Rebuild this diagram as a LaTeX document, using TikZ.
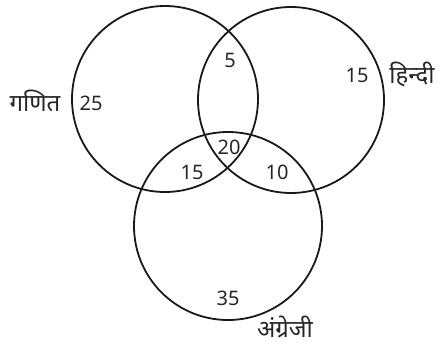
\documentclass[tikz,border=0pt]{standalone}
\usepackage{fontspec}
\setmainfont{Noto Sans}
\newfontfamily\deva[Script=Devanagari]{Noto Sans}
\begin{document}
\begin{tikzpicture}[x=1pt,y=-1pt,
  setc/.style={draw=black!90,line width=1.8pt},
  num/.style={font=\fontsize{20}{24}\selectfont,text=black!85,inner sep=0pt},
  lab/.style={font=\deva\fontsize{24}{28}\selectfont,text=black!85,inner sep=0pt}]
\useasboundingbox (0,0) rectangle (443,350);
\node[setc,circle,minimum size=186pt,inner sep=0pt] (M) at (165,99) {};
\node[setc,circle,minimum size=186pt,inner sep=0pt] (H) at (291,100) {};
\node[setc,circle,minimum size=188pt,inner sep=0pt] (E) at (228,226) {};
\node[lab] (lm) at (35,101) {गणित};
\node[num] (n25) at (91,103) {25};
\node[num] (n5) at (230,60) {5};
\node[num] (n15a) at (357,75) {15};
\node[lab] (lh) at (412,74) {हिन्दी};
\node[num] (n20) at (229,147) {20};
\node[num] (n15b) at (192,172) {15};
\node[num] (n10) at (277,172) {10};
\node[num] (n35) at (228,298) {35};
\node[lab] (le) at (285,327) {अंग्रेजी};
\end{tikzpicture}
\end{document}
